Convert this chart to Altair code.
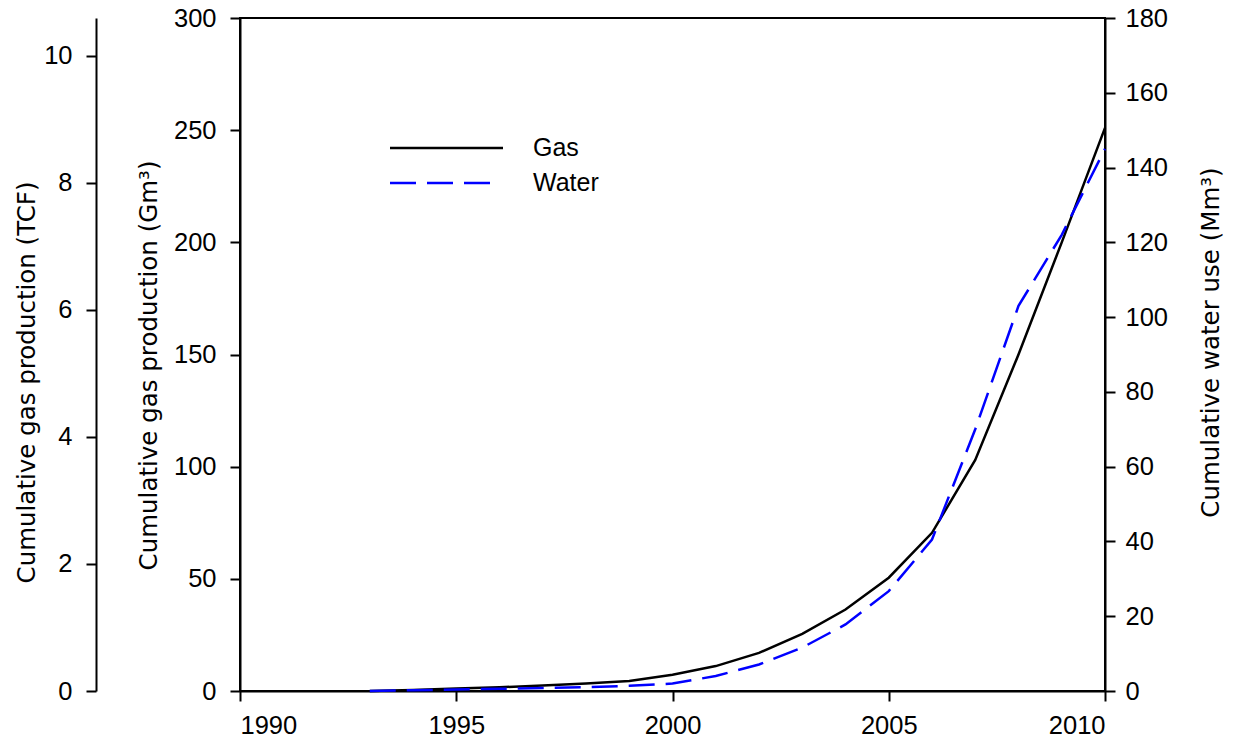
import altair as alt
import pandas as pd

# ---- data ----
years = [1993, 1994, 1995, 1996, 1997, 1998, 1999, 2000, 2001, 2002,
         2003, 2004, 2005, 2006, 2007, 2008, 2009, 2010]
gas_gm3 = [0, 0.5, 1.1, 1.7, 2.4, 3.3, 4.5, 7.2, 11.1, 17.0,
           25.5, 36.3, 50.5, 70.5, 103, 150, 200, 251]
water_mm3 = [0, 0.2, 0.4, 0.6, 0.8, 1.0, 1.4, 2.0, 4.0, 7.1,
             11.6, 17.8, 26.7, 40.5, 70, 103, 122, 145]

x_ticks = [1990, 1995, 2000, 2005, 2010]
gm3_ticks = [0, 50, 100, 150, 200, 250, 300]
tcf_ticks = [0, 2, 4, 6, 8, 10]
water_ticks = [0, 20, 40, 60, 80, 100, 120, 140, 160, 180]

GM3_PER_TCF = 28.317

df = pd.DataFrame({"year": years, "gas": gas_gm3, "water": water_mm3})
df["tcf"] = df["gas"] / GM3_PER_TCF

W, H = 865, 673
LBL_FONT = "Liberation Sans"
TTL_FONT = "DejaVu Sans"
LBL_SIZE = 25.5
TTL_SIZE = 24.5

xscale = alt.Scale(domain=[1990, 2010], nice=False, zero=False)
xaxis = alt.Axis(values=x_ticks, format="d", orient="bottom", title=None,
                 tickSize=10, labelPadding=12, grid=False)

base = alt.Chart(df)

gas_line = base.mark_line(color="black", strokeWidth=2.5).encode(
    x=alt.X("year:Q", scale=xscale, axis=xaxis),
    y=alt.Y("gas:Q", scale=alt.Scale(domain=[0, 300], nice=False),
            axis=alt.Axis(orient="left", values=gm3_ticks, title="Cumulative gas production (Gm³)",
                          tickSize=10, labelPadding=14, titlePadding=12, titleY=347, grid=False)),
)

water_line = base.mark_line(color="#0000ff", strokeWidth=2.5, strokeDash=[26, 11]).encode(
    x=alt.X("year:Q", scale=xscale, axis=xaxis),
    y=alt.Y("water:Q", scale=alt.Scale(domain=[0, 180], nice=False),
            axis=alt.Axis(orient="right", values=water_ticks, title="Cumulative water use (Mm³)",
                          tickSize=10, labelPadding=10, titlePadding=32, titleAngle=270,
                          titleBaseline="top", titleY=324, grid=False)),
)

tcf_line = base.mark_line(opacity=0).encode(
    x=alt.X("year:Q", scale=xscale, axis=xaxis),
    y=alt.Y("tcf:Q", scale=alt.Scale(domain=[0, 300 / GM3_PER_TCF], nice=False),
            axis=alt.Axis(orient="left", values=tcf_ticks, title="Cumulative gas production (TCF)",
                          offset=144, tickSize=10, labelPadding=14, titlePadding=4,
                          titleY=364, grid=False)),
)

leg_df = pd.DataFrame({"a": [0]})
leg = alt.Chart(leg_df)
leg_gas = leg.mark_rule(color="black", strokeWidth=2.5).encode(
    x=alt.value(150), x2=alt.value(263), y=alt.value(130))
leg_water = leg.mark_rule(color="#0000ff", strokeWidth=2.5, strokeDash=[26, 11]).encode(
    x=alt.value(150), x2=alt.value(253), y=alt.value(165))
leg_gas_t = leg.mark_text(align="left", baseline="middle", font=LBL_FONT, fontSize=25).encode(
    x=alt.value(293), y=alt.value(130), text=alt.value("Gas"))
leg_water_t = leg.mark_text(align="left", baseline="middle", font=LBL_FONT, fontSize=25).encode(
    x=alt.value(293), y=alt.value(165), text=alt.value("Water"))

chart = alt.layer(
    gas_line, water_line, tcf_line, leg_gas, leg_water, leg_gas_t, leg_water_t
).resolve_scale(y="independent").properties(
    width=W, height=H,
    autosize=alt.AutoSizeParams(type="none"),
    padding={"left": 240, "top": 18, "right": 133, "bottom": 54},
    background="white",
).configure_view(
    stroke="black", strokeWidth=2
).configure_axis(
    domainColor="black", domainWidth=2, tickColor="black", tickWidth=2,
    labelFont=LBL_FONT, labelFontSize=LBL_SIZE, labelColor="black",
    titleFont=TTL_FONT, titleFontSize=TTL_SIZE, titleFontWeight="normal", titleColor="black",
)

chart.save("out.html", embed_options={"renderer": "svg", "actions": False})
